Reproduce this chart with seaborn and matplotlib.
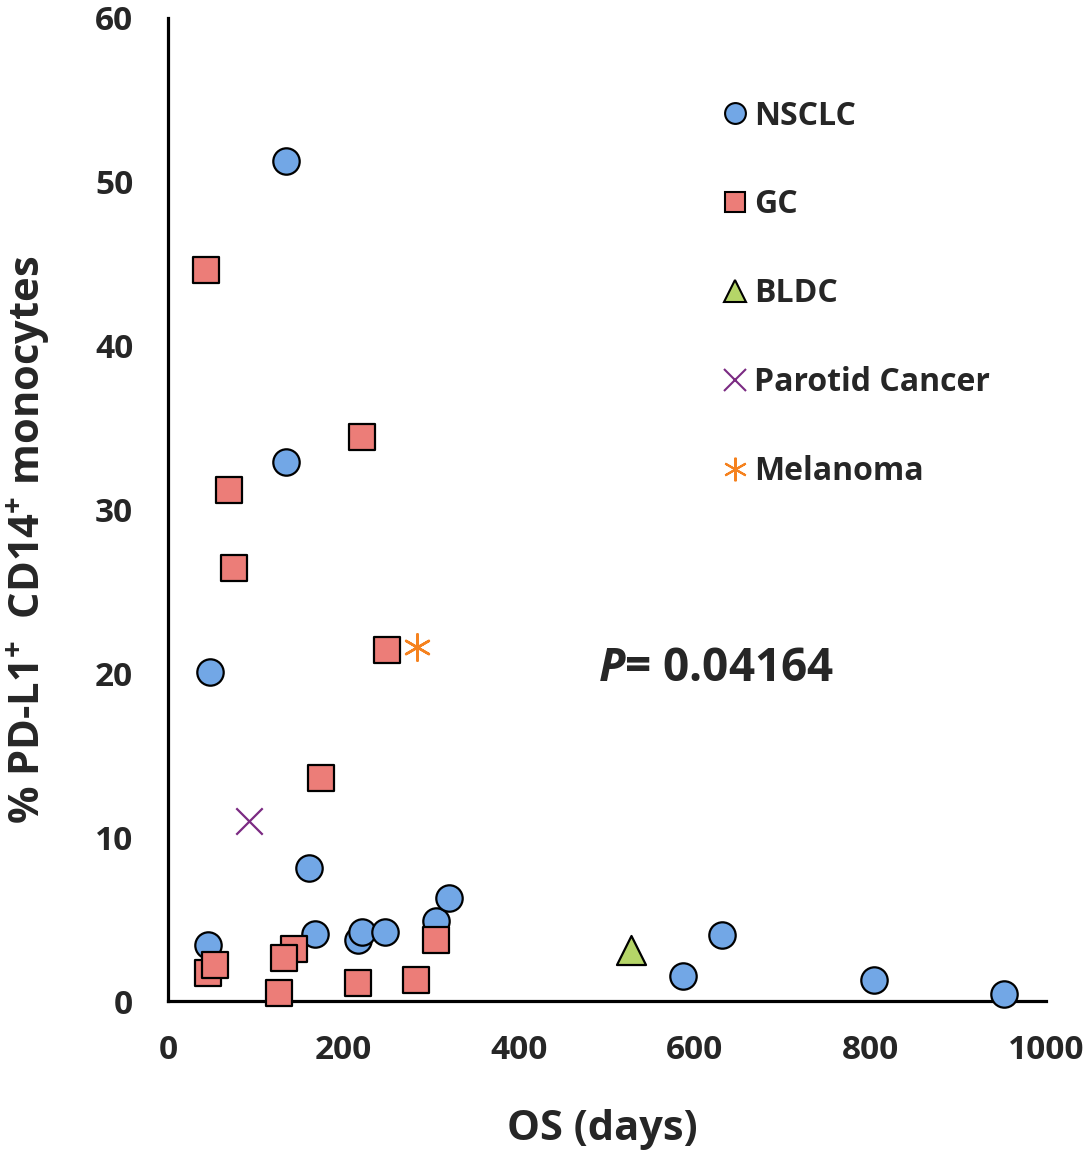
import matplotlib
matplotlib.use("Agg")
import matplotlib.pyplot as plt
import seaborn as sns
import pandas as pd
from matplotlib.lines import Line2D

# ---- data ----
nsclc_os = [134, 134, 48, 161, 46, 167, 216, 221, 247, 305, 320, 587, 631, 804, 952]
nsclc_pd = [51.3, 32.9, 20.1, 8.1, 3.4, 4.1, 3.7, 4.2, 4.2, 4.9, 6.3, 1.5, 4.0, 1.3, 0.4]

gc_os = [43, 221, 69, 75, 249, 174, 46, 53, 144, 132, 126, 216, 282, 305]
gc_pd = [44.6, 34.4, 31.2, 26.4, 21.4, 13.6, 1.7, 2.2, 3.2, 2.6, 0.5, 1.1, 1.3, 3.7]

bldc_os = [527]
bldc_pd = [3.1]

parotid_os = [92]
parotid_pd = [11.0]

melanoma_os = [284]
melanoma_pd = [21.6]

x_ticks = [0, 200, 400, 600, 800, 1000]
y_ticks = [0, 10, 20, 30, 40, 50, 60]

sns.set_style("white")
plt.rcParams['font.family'] = ['Open Sans', 'DejaVu Sans']
plt.rcParams['font.weight'] = 'bold'
plt.rcParams['mathtext.fontset'] = 'custom'
plt.rcParams['mathtext.rm'] = 'Open Sans:bold'
plt.rcParams['mathtext.bf'] = 'Open Sans:bold'
plt.rcParams['mathtext.it'] = 'Open Sans:bold:italic'

fig = plt.figure(figsize=(10.88, 11.57), dpi=100)
ax = fig.add_axes([168/1088, 1 - 1001/1157, 878/1088, 983/1157])

def df(x, y, name):
    return pd.DataFrame({"os": x, "pd": y, "grp": name})

ms = 19  # points
kw = dict(ax=ax, x="os", y="pd", legend=False, clip_on=False, zorder=5)
sns.scatterplot(data=df(nsclc_os, nsclc_pd, "NSCLC"), marker="o", s=ms**2,
                color="#72a7e6", edgecolor="black", linewidth=1.6, **kw)
sns.scatterplot(data=df(gc_os, gc_pd, "GC"), marker="s", s=ms**2,
                color="#ec7d78", edgecolor="black", linewidth=1.6, **kw)
sns.scatterplot(data=df(bldc_os, bldc_pd, "BLDC"), marker="^", s=(ms*1.1)**2,
                color="#b5d568", edgecolor="black", linewidth=1.6, **kw)
sns.scatterplot(data=df(parotid_os, parotid_pd, "Parotid"), marker="x", s=ms**2,
                color="#7b2a82", linewidth=1.6, **kw)
sns.scatterplot(data=df(melanoma_os, melanoma_pd, "Melanoma"), marker=(6, 2, 0), s=ms**2,
                color="#f5821f", linewidth=1.8, **kw)

ax.set_xlim(0, 1000)
ax.set_ylim(0, 60)
ax.set_xticks(x_ticks)
ax.set_yticks(y_ticks)
ax.tick_params(axis="both", direction="out", length=8, width=2.3,
               labelsize=24, color="black")
ax.tick_params(axis="x", pad=16)
ax.tick_params(axis="y", pad=17)
for lab in ax.get_xticklabels() + ax.get_yticklabels():
    lab.set_fontweight("bold")

for side in ["top", "right"]:
    ax.spines[side].set_visible(False)
for side in ["left", "bottom"]:
    ax.spines[side].set_linewidth(2.3)
    ax.spines[side].set_color("black")

ax.set_xlabel("OS (days)", fontsize=30, fontweight="bold")
ax.xaxis.set_label_coords(0.495, -0.110)
ax.set_ylabel(r"% PD-L1$^{+}$  CD14$^{+}$ monocytes", fontsize=30, fontweight="bold")
ax.yaxis.set_label_coords(-0.132, 0.469)

ax.text(490, 20.3, r"$\mathit{P}$= 0.04164", fontsize=33, fontweight="bold",
        ha="left", va="center")

handles = [
    Line2D([], [], ls="none", marker="o", ms=15, mfc="#72a7e6", mec="black", mew=1.5),
    Line2D([], [], ls="none", marker="s", ms=15, mfc="#ec7d78", mec="black", mew=1.5),
    Line2D([], [], ls="none", marker="^", ms=16, mfc="#b5d568", mec="black", mew=1.5),
    Line2D([], [], ls="none", marker="x", ms=16, color="#7b2a82", mew=1.5),
    Line2D([], [], ls="none", marker=(6, 2, 0), ms=17, color="#f5821f", mew=1.5),
]
labels = ["NSCLC", "GC", "BLDC", "Parotid Cancer", "Melanoma"]
leg = ax.legend(handles, labels, loc="upper left", bbox_to_anchor=(0.618, 0.930),
                frameon=False, fontsize=23, handlelength=0.7, handletextpad=0.25,
                labelspacing=1.75, borderaxespad=0)
for t in leg.get_texts():
    t.set_fontweight("bold")

fig.savefig("out.png", dpi=100)
